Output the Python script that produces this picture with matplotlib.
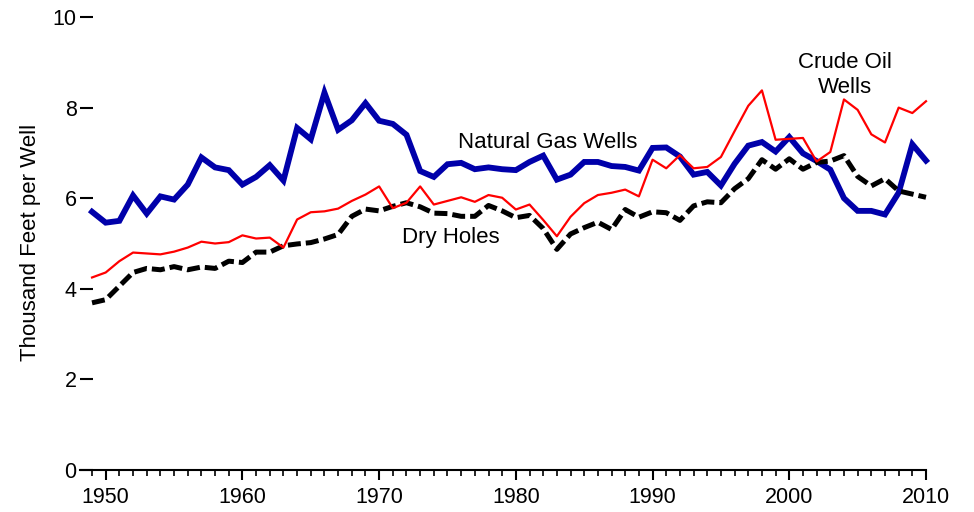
import matplotlib
matplotlib.use("Agg")
import matplotlib.pyplot as plt
import numpy as np

plt.rcParams['font.family'] = ['Liberation Sans', 'DejaVu Sans']

years = list(range(1949, 2011))

natural_gas = [5.70, 5.46, 5.50, 6.06, 5.66, 6.04, 5.97, 6.30, 6.90, 6.68,
               6.62, 6.30, 6.47, 6.73, 6.39, 7.55, 7.30, 8.33, 7.51, 7.72,
               8.10, 7.71, 7.64, 7.40, 6.60, 6.47, 6.75, 6.78, 6.64, 6.68,
               6.64, 6.62, 6.80, 6.94, 6.41, 6.52, 6.80, 6.80, 6.71, 6.69,
               6.61, 7.11, 7.12, 6.92, 6.52, 6.58, 6.28, 6.76, 7.16, 7.24,
               7.03, 7.35, 6.99, 6.82, 6.63, 6.00, 5.72, 5.72, 5.64, 6.12,
               7.19, 6.83]

crude_oil = [4.25, 4.36, 4.61, 4.80, 4.78, 4.76, 4.82, 4.91, 5.04, 5.00,
             5.03, 5.18, 5.11, 5.13, 4.91, 5.53, 5.69, 5.71, 5.77, 5.94,
             6.08, 6.26, 5.78, 5.90, 6.26, 5.86, 5.94, 6.02, 5.92, 6.07,
             6.01, 5.75, 5.86, 5.52, 5.16, 5.59, 5.89, 6.07, 6.12, 6.19,
             6.04, 6.85, 6.66, 6.95, 6.66, 6.69, 6.91, 7.48, 8.04, 8.38,
             7.29, 7.31, 7.33, 6.81, 7.02, 8.18, 7.95, 7.41, 7.23, 8.00,
             7.88, 8.14]

dry_holes = [3.69, 3.76, 4.06, 4.36, 4.45, 4.42, 4.49, 4.42, 4.48, 4.45,
             4.61, 4.58, 4.81, 4.81, 4.95, 4.99, 5.02, 5.10, 5.20, 5.60,
             5.76, 5.72, 5.82, 5.90, 5.81, 5.67, 5.66, 5.60, 5.60, 5.84,
             5.72, 5.57, 5.62, 5.33, 4.87, 5.21, 5.35, 5.47, 5.31, 5.75,
             5.58, 5.70, 5.68, 5.51, 5.83, 5.92, 5.90, 6.21, 6.43, 6.85,
             6.64, 6.87, 6.64, 6.79, 6.82, 6.94, 6.48, 6.27, 6.43, 6.16,
             6.09, 6.02]

major_ticks = [1950, 1960, 1970, 1980, 1990, 2000, 2010]
y_ticks = [0, 2, 4, 6, 8, 10]

fig = plt.figure(figsize=(9.74, 5.12), dpi=100)
ax = fig.add_axes([80/974, 42/512, (926-80)/974, (495-42)/512])

ax.plot(years, natural_gas, color='#0000AA', lw=4.2, solid_joinstyle='miter', clip_on=False, zorder=3)
ax.plot(years, dry_holes, color='black', lw=3.6, linestyle=(0, (2.6, 1.0)),
        dash_capstyle='butt', clip_on=False, zorder=4)
ax.plot(years, crude_oil, color='#FF0000', lw=1.6, clip_on=False, zorder=5)

ax.set_xlim(1948.12, 2010)
ax.set_ylim(0, 10)

for s in ['left', 'top', 'right']:
    ax.spines[s].set_visible(False)
ax.spines['bottom'].set_linewidth(1.5)

ax.set_xticks(major_ticks)
ax.set_xticks(years, minor=True)
ax.set_yticks(y_ticks)
ax.tick_params(axis='x', which='major', direction='out', length=7, width=1.5,
               labelsize=15.5, pad=5.5)
ax.tick_params(axis='x', which='minor', direction='out', length=4, width=1.2)
ax.tick_params(axis='y', which='major', direction='in', length=9.5, width=1.5,
               labelsize=15.5, pad=2.5)

ax.text(1975.8, 7.22, 'Natural Gas Wells', fontsize=16, ha='left', va='center')
ax.text(1971.7, 5.14, 'Dry Holes', fontsize=16, ha='left', va='center')
ax.text(2004.1, 8.72, 'Crude Oil\nWells', fontsize=16, ha='center', va='center',
        linespacing=1.2)

fig.text(31/974, 1 - 242/512, 'Thousand Feet per Well', rotation=90,
         fontsize=16, ha='center', va='center')

fig.savefig('out.png', dpi=100)
